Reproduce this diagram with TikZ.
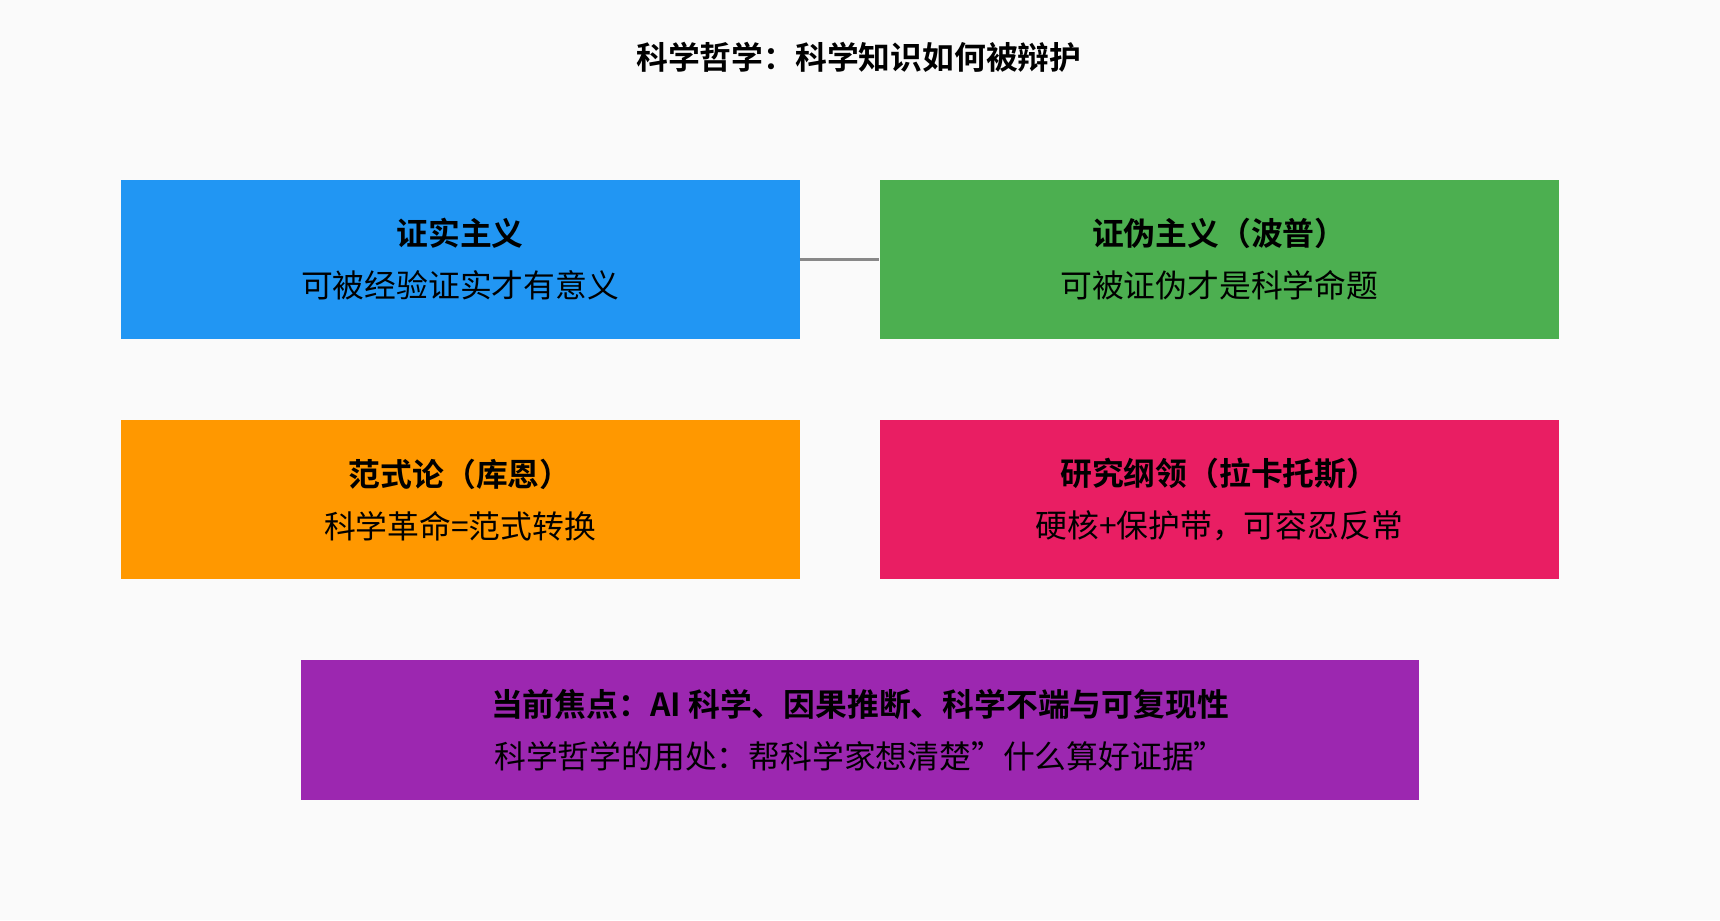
\documentclass[tikz,border=0pt]{standalone}
\usepackage{fontspec}
\setmainfont{Noto Sans CJK SC}[BoldFont={Noto Sans CJK SC Bold}]
\usetikzlibrary{positioning}
\definecolor{bg}{HTML}{FAFAFA}
\definecolor{cblue}{HTML}{2196F3}
\definecolor{cgreen}{HTML}{4CAF50}
\definecolor{corange}{HTML}{FF9800}
\definecolor{cpink}{HTML}{E91E63}
\definecolor{cpurple}{HTML}{9C27B0}
\definecolor{cline}{HTML}{888888}
\begin{document}
\begin{tikzpicture}[x=0.02cm,y=-0.02cm,
box/.style={draw=none,minimum width=12.38cm,minimum height=2.9cm,align=center,
font=\fontsize{16.5}{27}\selectfont},
wide/.style={box,minimum width=20.4cm,minimum height=2.54cm}]
\fill[bg] (0,0) rectangle (1568,839);
\node[font=\fontsize{16.5}{20}\selectfont\bfseries] (title) at (783,52) {科学哲学：科学知识如何被辩护};
\node[box,fill=cblue] (verif) at (419.5,236.5) {\textbf{证实主义}\\可被经验证实才有意义};
\node[box,fill=cgreen] (falsif) at (1111.5,236.5) {\textbf{证伪主义（波普）}\\可被证伪才是科学命题};
\node[box,fill=corange] (kuhn) at (419.5,455.5) {\textbf{范式论（库恩）}\\科学革命=范式转换};
\node[box,fill=cpink] (lakatos) at (1111.5,455.5) {\textbf{研究纲领（拉卡托斯）}\\硬核+保护带，可容忍反常};
\node[wide,fill=cpurple] (focus) at (784,665.5) {\textbf{当前焦点：AI 科学、因果推断、科学不端与可复现性}\\科学哲学的用处：帮科学家想清楚"什么算好证据"};
\draw[cline,line width=1.7pt] (verif) -- (falsif);
\end{tikzpicture}
\end{document}
